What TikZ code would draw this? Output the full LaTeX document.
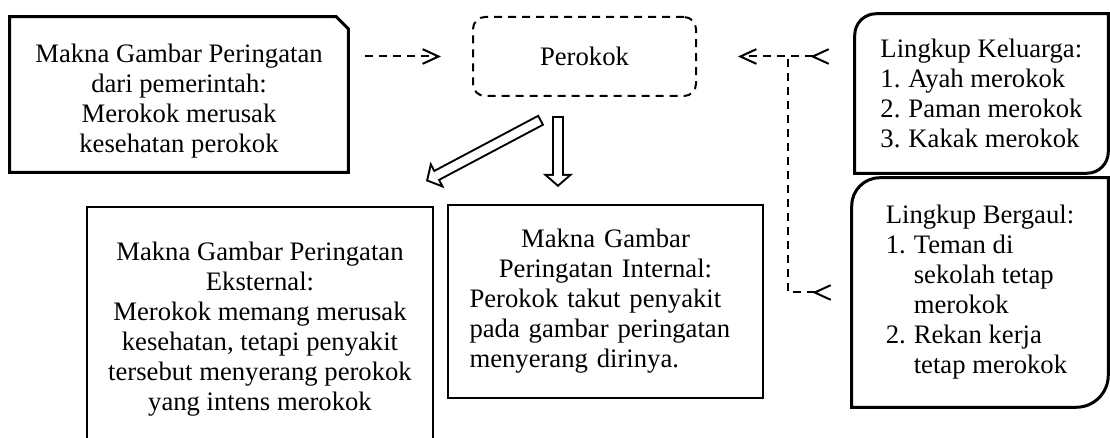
\documentclass[tikz,border=0pt]{standalone}
\usepackage{fontspec}
\setmainfont{Liberation Serif}
\usetikzlibrary{arrows.meta,calc}
\newcommand\nm[1]{\makebox[1.05em][l]{#1}}

\begin{document}
\begin{tikzpicture}[
  x=0.75pt,y=-0.75pt,
  font=\fontsize{20}{22.5}\selectfont,
  bx/.style={rectangle,inner sep=0pt,align=center},
  thn/.style={line width=1.5pt},
  thk/.style={line width=2.25pt},
  dsh/.style={line width=1.5pt,dash pattern=on 6pt off 4.5pt},
  barb/.tip={Straight Barb[length=12pt,width=11pt]},
  rbarb/.tip={Straight Barb[reversed,length=12pt,width=11pt]},
  holb/.style={line width=9pt,-{Triangle[length=9.75pt,width=22.5pt,line width=0pt]}},
  holw/.style={white,line width=6pt,-{Triangle[length=6.25pt,width=14.4pt,line width=0pt]}}
]
\path[use as bounding box,clip] (0,0) rectangle (1110,438);

% boxes
\node[bx,minimum width=253.5pt,minimum height=116.25pt] (pem) at (179,94.5) {};
\node[bx] (pemtxt) at ([yshift=-5pt]pem.center)
  {Makna Gambar Peringatan\\dari pemerintah:\\Merokok merusak\\kesehatan perokok};
\draw[thk] (pem.south west) -- (pem.north west) -- ([xshift=-9pt]pem.north east)
  -- ([yshift=-9pt]pem.north east) -- (pem.south east) -- cycle;

\node[bx,draw,dsh,rounded corners=9pt,minimum width=167.25pt,minimum height=59.25pt] (per) at (584.5,56.5) {Perokok};

\node[bx,align=left,minimum width=189.75pt,minimum height=119.25pt] (kel) at (981.5,93.5)
  {Lingkup Keluarga:\\\nm{1.}Ayah merokok\\\nm{2.}Paman merokok\\\nm{3.}Kakak merokok};
\draw[thk] (kel.south west) -- ([yshift=-16pt]kel.north west) arc[start angle=180,end angle=90,radius=16pt]
  -- (kel.north east) -- ([yshift=16pt]kel.south east) arc[start angle=0,end angle=-90,radius=16pt] -- cycle;

\node[bx,align=left,minimum width=192pt,minimum height=171.75pt] (ber) at (980,292.5)
  {Lingkup Bergaul:\\\nm{1.}Teman di\\\nm{}sekolah tetap\\\nm{}merokok\\\nm{2.}Rekan kerja\\\nm{}tetap merokok};
\draw[thk] (ber.south west) -- ([yshift=-21pt]ber.north west) arc[start angle=180,end angle=90,radius=21pt]
  -- (ber.north east) -- ([yshift=24pt]ber.south east) arc[start angle=0,end angle=-90,radius=24pt] -- cycle;

\node[bx,draw,thn,minimum width=259.5pt,minimum height=183pt] (ext) at (260,329)
  {Makna Gambar Peringatan\\Eksternal:\\Merokok memang merusak\\kesehatan, tetapi penyakit\\tersebut menyerang perokok\\yang intens merokok};

\node[bx,draw,thn,minimum width=236.25pt,minimum height=144.75pt,text width=204pt] (int) at (605.5,301.5)
  {Makna Gambar\\Peringatan Internal:\\\makebox[204pt][s]{Perokok takut penyakit}\\\makebox[204pt][s]{pada gambar peringatan}\\\makebox[204pt][l]{menyerang dirinya.}};

% dashed links
\coordinate (jn) at ([xshift=68.25pt]per.east);
\draw[dsh,-{barb},shorten <=12.75pt,shorten >=23.25pt] (pem.east |- per.west) -- (per.west);
\draw[dsh,{rbarb}-{barb},shorten <=18.75pt,shorten >=30.75pt] (kel.west |- per.east) -- (per.east);
\draw[dsh,{rbarb}-,shorten <=15pt] (ber.west) -| (jn);

% hollow arrows
\coordinate (va) at ([xshift=-19.9pt]per.south);
\coordinate (vb) at (va |- int.north);
\coordinate (db) at ([xshift=-41.25pt]ext.north east);
\draw[holb,shorten <=36.6pt,shorten >=39.9pt] (per.south) -- (db);
\draw[holw,shorten <=38.1pt,shorten >=41.9pt] (per.south) -- (db);
\draw[holb,shorten <=14.25pt,shorten >=12.75pt] (va) -- (vb);
\draw[holw,shorten <=15.75pt,shorten >=14.75pt] (va) -- (vb);
\end{tikzpicture}
\end{document}
